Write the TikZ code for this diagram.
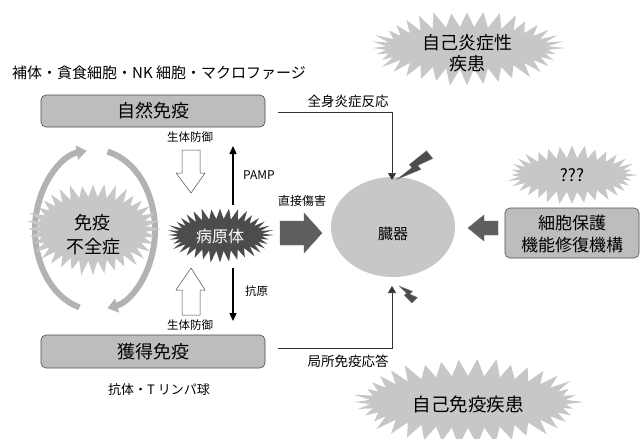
\documentclass[tikz,border=0pt]{standalone}
\usepackage{fontspec}
\setmainfont{Noto Sans CJK JP}
\usetikzlibrary{arrows.meta,shapes.geometric}
\definecolor{boxfill}{gray}{0.74}
\definecolor{starfill}{gray}{0.78}
\definecolor{darkfill}{gray}{0.30}
\newcommand\burst[7]{%
  \pgfmathtruncatemacro\bn{2*#7-1}%
  \fill[#1] plot[variable=\t,samples at={0,...,\bn}]
   ({#2+ifthenelse(mod(\t,2)==0,#4*(1-0.08*mod(\t*7,5)/4),#4-#6)*cos(\t*180/#7)},
    {#3+ifthenelse(mod(\t,2)==0,#5*(1-0.08*mod(\t*7,5)/4),#5-#6)*sin(\t*180/#7)}) -- cycle;}
\tikzset{
  ibox/.style={draw=black!70,line width=0.6pt,fill=boxfill,rounded corners=5pt},
  lbl/.style={inner sep=0pt,text=black},
  conn/.style={draw=black!80,line width=0.6pt,-{Triangle[length=7pt,width=8pt]}},
  thinarr/.style={draw=black,line width=1.3pt,-{Triangle[length=8pt,width=7pt]}},
  hollow/.style={draw=black!70,line width=0.5pt,fill=white},
  darkarr/.style={fill=darkfill!90,draw=black!60,line width=0.4pt},
  cyc/.style={draw=gray!60,line width=6pt,-{Triangle[length=10pt,width=14pt]}},
}
\begin{document}
\begin{tikzpicture}[x=1pt,y=-1pt]
\useasboundingbox (0,0) rectangle (643,439);
% top label
\node[lbl,anchor=west,font=\fontsize{15}{15}\selectfont] (toplbl) at (12,73) {補体・貪食細胞・NK 細胞・マクロファージ};
% boxes
\draw[ibox] (41,95) rectangle (265,127);
\node[lbl,font=\fontsize{18}{18}\selectfont] (innate) at (153,111) {自然免疫};
\draw[ibox] (41,335) rectangle (265,368);
\node[lbl,font=\fontsize{18}{18}\selectfont] (acq) at (153,352) {獲得免疫};
\node[lbl,font=\fontsize{13}{13}\selectfont] (botlbl) at (159,390) {抗体・T リンパ球};
% cycle arrows around immunodeficiency
\draw[cyc] (95,230) ++(105:60 and 80) arc[start angle=105,end angle=262,x radius=60,y radius=80];
\draw[cyc] (95,230) ++(282:60 and 80) arc[start angle=282,end angle=438,x radius=60,y radius=80];
% immunodeficiency burst
\burst{starfill}{93}{229}{68}{47}{15}{36}
\node[lbl,align=center,font=\fontsize{18}{24}\selectfont] (immdef) at (93,235) {免疫\\不全症};
% pathogen burst
\burst{darkfill}{220}{235}{54}{28}{12}{36}
\node[lbl,text=white,font=\fontsize{16}{16}\selectfont] (path) at (220,236) {病原体};
% hollow arrows
\draw[hollow] (182,150) -- (200,150) -- (200,173) -- (205,173) -- (191,193) -- (176,173) -- (182,173) -- cycle;
\node[lbl,font=\fontsize{11.5}{11.5}\selectfont] (def1) at (190,137) {生体防御};
\draw[hollow] (182,315) -- (200,315) -- (200,290) -- (205,290) -- (191,268) -- (176,290) -- (182,290) -- cycle;
\node[lbl,font=\fontsize{11.5}{11.5}\selectfont] (def2) at (190,325) {生体防御};
% PAMP / antigen arrows
\coordinate (pampS) at (233,205);
\coordinate (pampE) at (233,146);
\draw[thinarr] (pampS) -- (pampE);
\node[lbl,anchor=west,font=\fontsize{12}{12}\selectfont] (pamp) at (243,175) {PAMP};
\coordinate (agS) at (233,268);
\coordinate (agE) at (233,321);
\draw[thinarr] (agS) -- (agE);
\node[lbl,anchor=west,font=\fontsize{11.5}{11.5}\selectfont] (ag) at (245,291) {抗原};
% direct damage arrow
\node[lbl,font=\fontsize{12}{12}\selectfont] (dmg) at (302,201) {直接傷害};
\draw[darkarr] (280,221) -- (304,221) -- (304,213) -- (322,233) -- (304,253) -- (304,245) -- (280,245) -- cycle;
% organ
\node[ellipse,fill=starfill,minimum width=124pt,minimum height=100pt,inner sep=0pt] (organ) at (393,227) {};
\node[lbl,font=\fontsize{15}{15}\selectfont] (organlbl) at (393,234) {臓器};
% systemic inflammation connector
\coordinate (sysS) at (278,112);
\coordinate (sysE) at (392,180);
\draw[conn] (sysS) -| (sysE);
\node[lbl,font=\fontsize{13.5}{13.5}\selectfont] (sys) at (348,101) {全身炎症反応};
% local immune response connector
\coordinate (locS) at (278,348);
\coordinate (locE) at (392,286);
\draw[conn] (locS) -| (locE);
\node[lbl,font=\fontsize{13.5}{13.5}\selectfont] (loc) at (348,361) {局所免疫応答};
% lightning bolts
\fill[darkfill,draw=black!50,line width=0.3pt] (426.5,150.7) -- (432.8,158.5) -- (417.8,165.5) -- (421,169.4) -- (396.6,179.5) -- (411.9,167.7) -- (409.3,164.6) -- cycle;
\fill[darkfill,draw=black!50,line width=0.3pt] (411.9,303.1) -- (417.5,297.5) -- (409.7,294.1) -- (412.5,291.3) -- (399,286) -- (406.5,293.1) -- (404.2,295.4) -- cycle;
% autoinflammatory burst
\burst{starfill}{467}{48}{98}{38}{17}{36}
\node[lbl,align=center,font=\fontsize{18}{21}\selectfont] (autoinfl) at (467,53) {自己炎症性\\疾患};
% ??? burst
\burst{starfill}{572}{175}{66}{30}{13}{32}
\node[lbl,font=\fontsize{17}{17}\selectfont] (q) at (572,175) {???};
% protection box
\draw[ibox] (505,208) rectangle (639,258);
\node[lbl,align=center,font=\fontsize{17}{22}\selectfont] (prot) at (572,234) {細胞保護\\機能修復機構};
\draw[darkarr] (498,221) -- (484,221) -- (484,215) -- (468,228) -- (484,241) -- (484,235) -- (498,235) -- cycle;
% autoimmune burst
\burst{starfill}{468}{402}{116}{44}{18}{38}
\node[lbl,font=\fontsize{18.5}{18.5}\selectfont] (autoimm) at (468,404) {自己免疫疾患};
\end{tikzpicture}
\end{document}
